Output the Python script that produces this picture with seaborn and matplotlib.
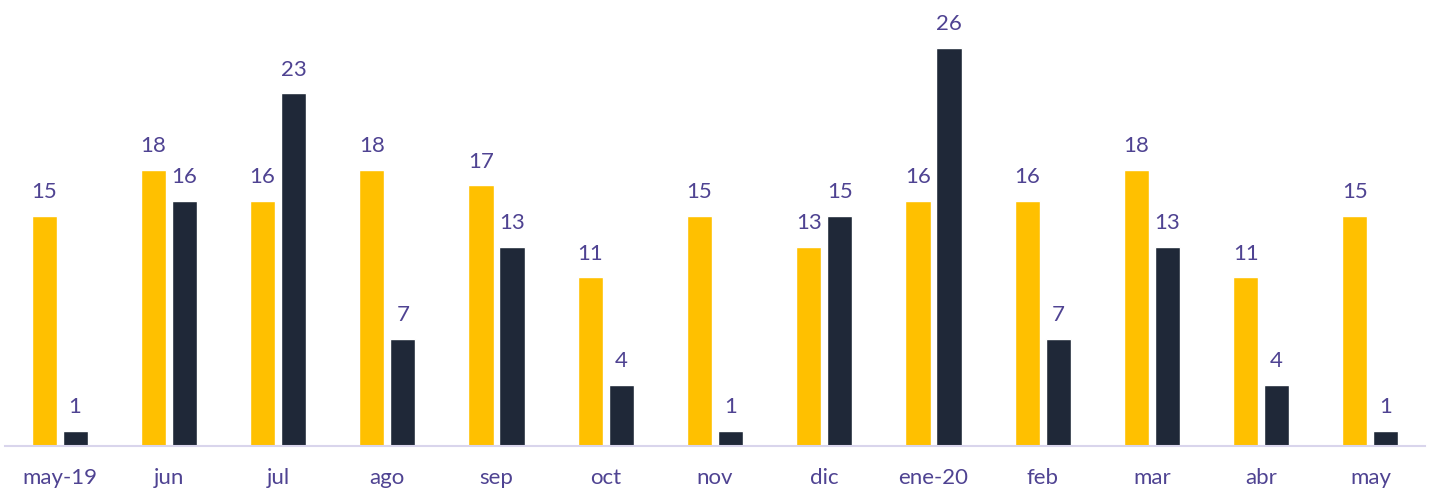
import pandas as pd
import matplotlib
matplotlib.use("Agg")
import matplotlib.pyplot as plt
import seaborn as sns

# Values
months = ["may-19", "jun", "jul", "ago", "sep", "oct", "nov", "dic",
          "ene-20", "feb", "mar", "abr", "may"]
serie_a = [15, 18, 16, 18, 17, 11, 15, 13, 16, 16, 18, 11, 15]
serie_b = [1, 16, 23, 7, 13, 4, 1, 15, 26, 7, 13, 4, 1]

df = pd.DataFrame({
    "mes": months * 2,
    "valor": serie_a + serie_b,
    "serie": ["A"] * len(months) + ["B"] * len(months),
})

sns.set_style("white")
plt.rcParams["font.family"] = ["Lato", "DejaVu Sans"]
text_color = "#4F4392"

fig = plt.figure(figsize=(14.34, 4.94), dpi=100)
ax = fig.add_axes([5 / 1434, 48 / 494, 1420 / 1434, 446 / 494])

sns.barplot(data=df, x="mes", y="valor", hue="serie", order=months,
            palette=["#FFC000", "#1F2838"], saturation=1,
            width=0.568, gap=0.19, legend=False, ax=ax)

for cont in ax.containers:
    ax.bar_label(cont, padding=10, color=text_color, fontsize=16)

ax.set_xlim(-0.5, 12.5)
ax.set_ylim(0, 29.1)
ax.set_xlabel("")
ax.set_ylabel("")
ax.set_yticks([])
ax.tick_params(axis="x", length=0, pad=16, labelsize=16, labelcolor=text_color)
for side in ["top", "left", "right"]:
    ax.spines[side].set_visible(False)
ax.spines["bottom"].set_color("#D9D5EC")
ax.spines["bottom"].set_linewidth(1.5)

fig.savefig("out.png", dpi=100)
